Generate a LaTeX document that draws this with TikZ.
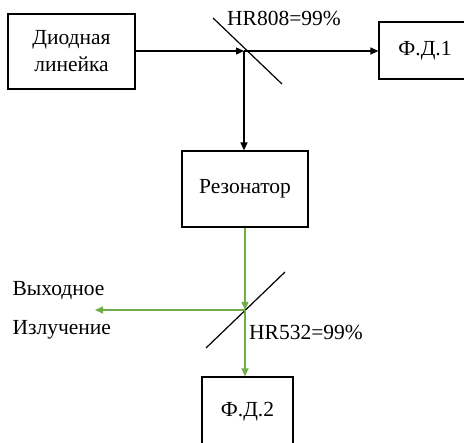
\documentclass[tikz,border=0pt]{standalone}
\usepackage{fontspec}
\setmainfont{Liberation Serif}
\usetikzlibrary{arrows.meta}
\definecolor{beamgreen}{RGB}{112,173,71}
\begin{document}
\begin{tikzpicture}[x=1pt, y=-1pt, font=\fontsize{21.5}{27}\selectfont,
	box/.style={draw, line width=1.2pt, inner sep=0pt, align=center},
	beam/.style={line width=1.3pt, -{Triangle[length=8pt, width=7pt]}},
	mirror/.style={line width=1.2pt}]
	\useasboundingbox (0,0) rectangle (464,443);
	% blocks
	\node[box, minimum width=127, minimum height=75] (diode) at (71.5,51.5) {Диодная\\линейка};
	\node[box, minimum width=92, minimum height=57] (fd1) at (425,50.5) {Ф.Д.1};
	\node[box, minimum width=126, minimum height=76] (res) at (245,189) {Резонатор};
	\node[box, minimum width=91, minimum height=70] (fd2) at (247.5,412) {Ф.Д.2};
	% mirrors
	\coordinate (m1) at (244,51);
	\coordinate (m2) at (245,310);
	\draw[mirror] (213,18) -- (282,84);
	\draw[mirror] (206,348) -- (285,272);
	\node (hr808) at (284,18) {HR808=99\%};
	\node (hr532) at (306,332) {HR532=99\%};
	% beams
	\draw[beam] (diode.east |- m1) -- (m1);
	\draw[beam] (m1) -- (m1 -| fd1.west);
	\draw[beam] (m1) -- (m1 |- res.north);
	\draw[beam, beamgreen] (res.south) -- (m2);
	\coordinate (out) at (95,310);
	\draw[beam, beamgreen] (m2) -- (out);
	\draw[beam, beamgreen] (m2) -- (m2 |- fd2.north);
	\node[anchor=west] (vyh) at (9,291) {Выходное};
	\node[anchor=west] (izl) at (9,330) {Излучение};
\end{tikzpicture}
\end{document}
